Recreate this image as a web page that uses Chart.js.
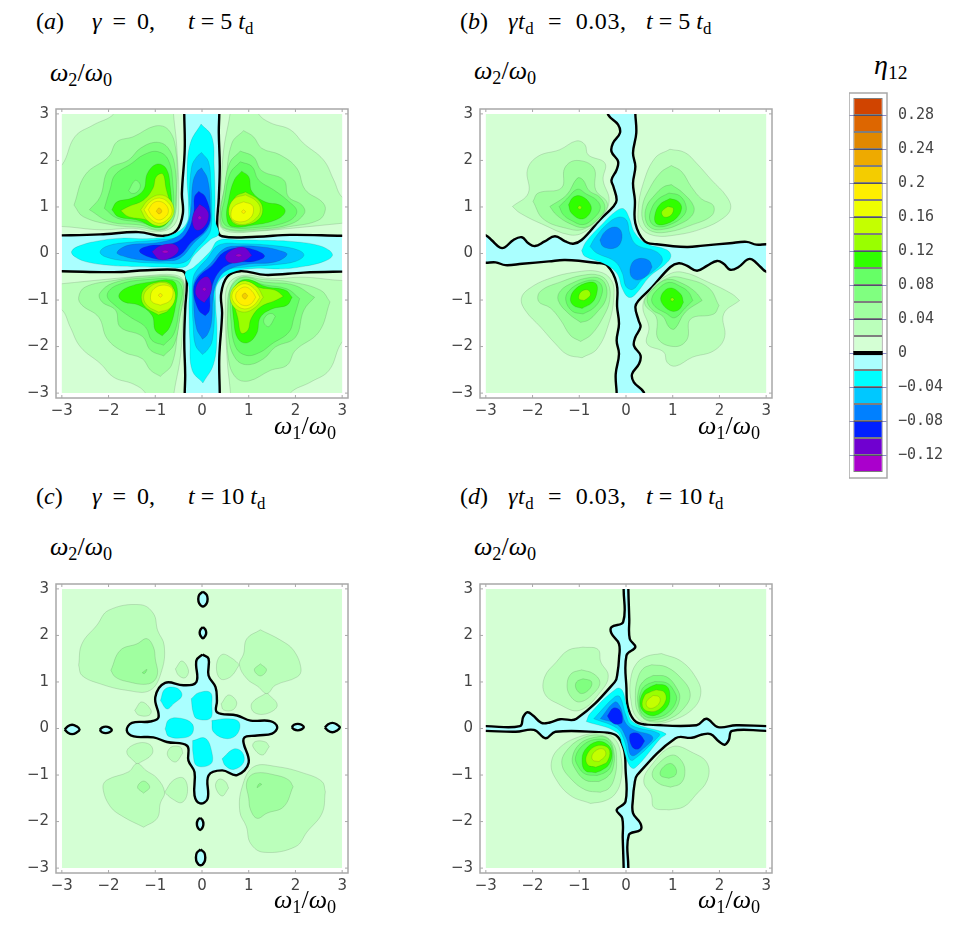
<!DOCTYPE html>
<html>
<head>
<meta charset="utf-8">
<script src="https://cdn.jsdelivr.net/npm/chart.js@4"></script>
<style>
    html, body { margin: 0; background: #fff; }
    #page { position: relative; width: 969px; height: 925px; overflow: hidden; }
    canvas { position: absolute; }
    .m { position: absolute; font: 24px "Liberation Serif", serif; color: #000; white-space: nowrap; line-height: 28px; }
    .m i { font-style: italic; }
    .m sub { font-size: 70%; line-height: 0; vertical-align: -0.28em; }
    .g { word-spacing: 5px; }
    .h { word-spacing: 7px; letter-spacing: 0.6px; }
    .w { font-size: 26px; }
</style>
</head>
<body>
<div id="page">
    <canvas id="panelA" width="335" height="321" style="left:21px;top:101px"></canvas>
    <canvas id="panelB" width="335" height="321" style="left:445px;top:101px"></canvas>
    <canvas id="panelC" width="335" height="321" style="left:21px;top:576px"></canvas>
    <canvas id="panelD" width="335" height="321" style="left:445px;top:576px"></canvas>
    <canvas id="colorbar" width="115" height="401" style="left:849px;top:85px"></canvas>

    <span class="m" style="left:36px;top:7px">(<i>a</i>)</span>
    <span class="m g" style="left:92px;top:7px"><i>γ</i> = 0,</span>
    <span class="m" style="left:188px;top:7px"><i>t</i> = 5 <i>t</i><sub>d</sub></span>
    <span class="m" style="left:460px;top:7px">(<i>b</i>)</span>
    <span class="m h" style="left:508px;top:7px"><i>γt</i><sub>d</sub> = 0.03,</span>
    <span class="m" style="left:646px;top:7px"><i>t</i> = 5 <i>t</i><sub>d</sub></span>
    <span class="m" style="left:36px;top:482px">(<i>c</i>)</span>
    <span class="m g" style="left:92px;top:482px"><i>γ</i> = 0,</span>
    <span class="m" style="left:188px;top:482px"><i>t</i> = 10 <i>t</i><sub>d</sub></span>
    <span class="m" style="left:460px;top:482px">(<i>d</i>)</span>
    <span class="m h" style="left:508px;top:482px"><i>γt</i><sub>d</sub> = 0.03,</span>
    <span class="m" style="left:646px;top:482px"><i>t</i> = 10 <i>t</i><sub>d</sub></span>

    <span class="m w" style="left:50px;top:59px"><i>ω</i><sub>2</sub>/<i>ω</i><sub>0</sub></span>
    <span class="m w" style="left:474px;top:57px"><i>ω</i><sub>2</sub>/<i>ω</i><sub>0</sub></span>
    <span class="m w" style="left:50px;top:533px"><i>ω</i><sub>2</sub>/<i>ω</i><sub>0</sub></span>
    <span class="m w" style="left:474px;top:533px"><i>ω</i><sub>2</sub>/<i>ω</i><sub>0</sub></span>
    <span class="m w" style="left:274px;top:412px"><i>ω</i><sub>1</sub>/<i>ω</i><sub>0</sub></span>
    <span class="m w" style="left:698px;top:412px"><i>ω</i><sub>1</sub>/<i>ω</i><sub>0</sub></span>
    <span class="m w" style="left:274px;top:886px"><i>ω</i><sub>1</sub>/<i>ω</i><sub>0</sub></span>
    <span class="m w" style="left:698px;top:886px"><i>ω</i><sub>1</sub>/<i>ω</i><sub>0</sub></span>
    <span class="m" style="left:874px;top:51px;font-size:28px"><i>η</i><sub>12</sub></span>
</div>
<script>
const axisTicks = [-3, -2, -1, 0, 1, 2, 3];
const barTicks = [0.28, 0.24, 0.2, 0.16, 0.12, 0.08, 0.04, 0, -0.04, -0.08, -0.12];
const bandFloor = [-0.14, -0.12, -0.1, -0.08, -0.06, -0.04, -0.02, 0, 0.02, 0.04, 0.06, 0.08, 0.1, 0.12, 0.14, 0.16, 0.18, 0.2, 0.22, 0.24, 0.26, 0.28];
const bandColor = ['#aa00cc', '#7000d0', '#0020ff', '#0080ff', '#00c8ff', '#00ffff', '#aaffff', '#d4ffd4', '#bbffbb', '#a0ffa0', '#80ff80', '#66ff66', '#30ff00', '#99ff00', '#c4ff00', '#eeff00', '#ffee00', '#f4cc00', '#eeaa00', '#e08800', '#dd6600', '#d04400'];

const square = [[-3, -3], [3, -3], [3, 3], [-3, 3]];

// contours in (w1, w2) units, lobes list the levels 0.02, 0.04, ... upward
// panel a
const aZeroNE = [[0.37, 3.3], [0.37, 3], [0.36, 2.6], [0.38, 1.87], [0.36, 1.2], [0.33, 0.54], [0.43, 0.37], [1.17, 0.36], [1.89, 0.4], [3, 0.38], [3.3, 0.38], [3.3, 3.3]];
const aZeroNW = [[-3.3, 0.39], [-3, 0.39], [-2.18, 0.41], [-1.36, 0.46], [-0.82, 0.38], [-0.54, 0.5], [-0.41, 0.86], [-0.43, 1.29], [-0.37, 2.23], [-0.38, 3], [-0.38, 3.3], [-3.3, 3.3]];
const aLobeNE = [
    [[0.62, 3.3], [0.6, 3], [0.46, 2.2], [0.4, 1.2], [0.39, 0.6], [0.6, 0.46], [1.2, 0.48], [2, 0.55], [3, 0.65], [3.3, 0.68], [3.3, 1.1], [3, 1.21], [2.82, 1.58], [2.6, 2.01], [2.17, 2.37], [1.89, 2.66], [1.46, 2.81], [1.21, 3], [1.15, 3.3]],
    [[0.89, 2.64], [1.1, 2.51], [1.28, 2.26], [1.67, 2.12], [2.03, 1.83], [2.21, 1.37], [2.57, 1.11], [2.64, 0.94], [2.5, 0.72], [1.89, 0.58], [1.17, 0.49], [0.46, 0.54], [0.39, 0.86], [0.5, 1.51], [0.64, 2.37]],
    [[0.82, 2.2], [1.1, 2.08], [1.28, 1.78], [1.75, 1.58], [1.85, 1.22], [2.14, 1.04], [2.19, 0.86], [1.89, 0.63], [1.17, 0.52], [0.5, 0.54], [0.39, 0.79], [0.46, 1.29], [0.59, 1.94]],
    [[0.82, 1.97], [1.07, 1.87], [1.21, 1.58], [1.53, 1.37], [1.82, 1.15], [2.03, 0.9], [1.82, 0.68], [1.17, 0.56], [0.55, 0.58], [0.42, 0.79], [0.48, 1.15], [0.6, 1.72]],
    [[0.85, 1.77], [1, 1.65], [1.07, 1.33], [1.35, 1.11], [1.67, 1.04], [1.78, 0.9], [1.6, 0.73], [1.1, 0.61], [0.64, 0.58], [0.53, 0.76], [0.57, 1.15], [0.69, 1.58]],
    [[0.93, 1.32], [1.21, 1.15], [1.3, 0.94], [1.21, 0.73], [0.93, 0.61], [0.68, 0.65], [0.6, 0.86], [0.71, 1.21]],
    [[0.93, 1.26], [1.16, 1.13], [1.25, 0.94], [1.16, 0.76], [0.93, 0.63], [0.68, 0.68], [0.57, 0.9], [0.68, 1.17]],
    [[0.89, 1.11], [1.07, 1.04], [1.1, 0.9], [1.03, 0.76], [0.85, 0.68], [0.66, 0.73], [0.62, 0.86], [0.69, 1.02]],
    [[0.89, 0.94], [0.93, 0.9], [0.89, 0.86], [0.85, 0.9]]
];
const aLobeNW = [
    [[-3.3, 0.56], [-3, 0.58], [-2.18, 0.51], [-1.47, 0.54], [-0.9, 0.47], [-0.57, 0.65], [-0.5, 1.15], [-0.54, 2.3], [-0.61, 3], [-0.62, 3.3], [-1.85, 3.3], [-1.89, 3], [-2.33, 2.76], [-2.72, 2.51], [-3, 1.9], [-3.3, 1.75]],
    [[-2.74, 1.04], [-2.5, 1.69], [-2, 2.08], [-1.82, 2.4], [-1.47, 2.51], [-1, 2.74], [-0.72, 2.66], [-0.56, 2.23], [-0.54, 1.29], [-0.6, 0.76], [-0.82, 0.51], [-1.32, 0.56], [-1.89, 0.61], [-2.54, 0.79]],
    [[-2.41, 0.94], [-2.18, 1.22], [-2, 1.8], [-1.57, 2.01], [-1.32, 2.26], [-0.97, 2.39], [-0.72, 2.26], [-0.57, 1.8], [-0.57, 1.01], [-0.65, 0.68], [-0.9, 0.51], [-1.32, 0.61], [-1.97, 0.68]],
    [[-2.09, 0.97], [-1.97, 1.37], [-1.86, 1.69], [-1.5, 1.94], [-1.25, 2.12], [-0.95, 2.19], [-0.72, 2.01], [-0.62, 1.44], [-0.62, 0.94], [-0.72, 0.68], [-0.91, 0.56], [-1.32, 0.67], [-1.82, 0.76]],
    [[-1.93, 0.94], [-1.82, 1.11], [-1.5, 1.19], [-1.25, 1.37], [-1.17, 1.72], [-0.97, 1.92], [-0.77, 1.83], [-0.68, 1.44], [-0.66, 0.86], [-0.77, 0.63], [-1, 0.56], [-1.36, 0.71], [-1.79, 0.79]],
    [[-1.74, 0.92], [-1.57, 1.01], [-1.25, 1.15], [-1.05, 1.4], [-0.98, 1.65], [-0.84, 1.71], [-0.77, 1.4], [-0.68, 1.01], [-0.72, 0.76], [-0.93, 0.61], [-1.22, 0.73], [-1.57, 0.79]],
    [[-1.31, 0.94], [-1.15, 1.15], [-0.9, 1.26], [-0.68, 1.15], [-0.6, 0.9], [-0.72, 0.68], [-0.93, 0.59], [-1.18, 0.72]],
    [[-1.24, 0.94], [-1.11, 1.11], [-0.91, 1.19], [-0.72, 1.09], [-0.64, 0.9], [-0.75, 0.72], [-0.93, 0.65], [-1.12, 0.76]],
    [[-1.15, 0.94], [-1.05, 1.08], [-0.91, 1.12], [-0.77, 1.04], [-0.72, 0.9], [-0.79, 0.78], [-0.93, 0.72], [-1.07, 0.81]],
    [[-0.98, 0.91], [-0.92, 0.98], [-0.86, 0.91], [-0.92, 0.85]]
];
const aHole = [[-1.57, 1.35], [-1.43, 1.57], [-1.32, 1.47], [-1.38, 1.33], [-1.5, 1.29]];
const aArms = [
    [[-0.02, 2.78], [0.21, 2.51], [0.26, 1.87], [0.28, 1.15], [0.28, 0.72], [0.36, 0.42], [0.18, 0.3], [-0.18, -0.05], [-0.35, -0.28], [-0.8, -0.29], [-1.5, -0.28], [-1.9, -0.26], [-2.43, -0.19], [-2.72, -0.07], [-2.79, 0.05], [-2.61, 0.17], [-2.22, 0.27], [-1.72, 0.33], [-1.11, 0.32], [-0.61, 0.42], [-0.33, 0.65], [-0.29, 1], [-0.32, 1.72], [-0.25, 2.37]],
    [[-0.01, 2.17], [0.14, 1.97], [0.19, 1.5], [0.21, 1], [0.2, 0.6], [0.14, 0.4], [-0.11, 0.11], [-0.36, -0.18], [-0.82, -0.21], [-1.64, -0.16], [-2.07, -0.07], [-2.18, 0.04], [-2, 0.17], [-1.57, 0.24], [-0.97, 0.29], [-0.47, 0.38], [-0.25, 0.68], [-0.27, 1.15], [-0.22, 1.87], [-0.11, 2.08]],
    [[-0.01, 1.84], [0.12, 1.6], [0.18, 1], [0.15, 0.58], [-0.18, 0.22], [-0.47, -0.1], [-0.79, -0.16], [-1.29, -0.14], [-1.64, -0.07], [-1.82, 0.02], [-1.57, 0.18], [-0.97, 0.23], [-0.54, 0.36], [-0.34, 0.58], [-0.24, 0.94], [-0.2, 1.5], [-0.11, 1.75]],
    [[-0.07, 1.34], [0.07, 1.22], [0.18, 0.79], [0.07, 0.5], [-0.22, 0.25], [-0.47, -0.03], [-0.82, -0.13], [-1.15, -0.07], [-1.34, 0.06], [-1.11, 0.17], [-0.68, 0.2], [-0.36, 0.4], [-0.18, 0.86], [-0.16, 1.22]]
];
const aPurple = [
    [[-0.05, 1.06], [0.1, 0.94], [0.14, 0.79], [0.05, 0.58], [-0.11, 0.5], [-0.2, 0.65], [-0.18, 0.86]],
    [[-1.07, 0.04], [-0.9, 0.16], [-0.61, 0.2], [-0.5, 0.08], [-0.65, -0.08], [-0.9, -0.13]]
];
const aMagenta = [
    [[-0.05, 0.81], [-0.01, 0.77], [-0.05, 0.73], [-0.09, 0.77]],
    [[-0.86, 0.04], [-0.79, 0.07], [-0.72, 0.04], [-0.79, 0.01]]
];

// panel b
const bZeroNW = [[-3.3, 0.45], [-3, 0.39], [-2.88, 0.29], [-2.7, 0.13], [-2.6, 0.13], [-2.41, 0.29], [-2.23, 0.35], [-2.09, 0.22], [-1.95, 0.16], [-1.74, 0.26], [-1.52, 0.37], [-1.3, 0.26], [-1.13, 0.21], [-0.95, 0.29], [-0.56, 0.72], [-0.27, 1.01], [-0.2, 1.15], [-0.27, 1.44], [-0.31, 1.58], [-0.2, 1.8], [-0.17, 1.98], [-0.31, 2.19], [-0.28, 2.37], [-0.13, 2.59], [-0.17, 2.77], [-0.38, 2.98], [-0.45, 3.3], [-3.3, 3.3]];
const bZeroNE = [[0.2, 3.3], [0.2, 3], [0.22, 2.59], [0.15, 2.16], [0.2, 1.87], [0.15, 1.51], [0.19, 1.15], [0.2, 0.65], [0.4, 0.26], [0.65, 0.2], [1.3, 0.14], [1.65, 0.17], [2.22, 0.22], [2.58, 0.25], [2.79, 0.19], [3, 0.2], [3.3, 0.2], [3.3, 3.3]];
const bLobeNW = [
    [[-2.43, 1.01], [-2.09, 1.3], [-2.11, 1.8], [-1.88, 2.09], [-1.42, 2.23], [-1.06, 2.42], [-0.88, 2.34], [-0.81, 2.12], [-0.45, 1.94], [-0.49, 1.58], [-0.36, 1.15], [-0.49, 0.83], [-0.88, 0.47], [-1.2, 0.4], [-1.77, 0.62], [-2.27, 0.87]],
    [[-1.99, 1.12], [-1.88, 1.3], [-1.38, 1.41], [-1.31, 1.84], [-1.06, 2], [-0.69, 1.84], [-0.65, 1.37], [-0.4, 1.08], [-0.53, 0.8], [-0.92, 0.52], [-1.27, 0.54], [-1.77, 0.74]],
    [[-1.63, 1.01], [-1.27, 1.26], [-1.04, 1.62], [-0.92, 1.58], [-0.79, 1.35], [-0.56, 1.21], [-0.45, 0.97], [-0.6, 0.74], [-0.88, 0.56], [-1.2, 0.64], [-1.49, 0.83]],
    [[-1.43, 1.01], [-1.27, 1.17], [-1.04, 1.38], [-0.85, 1.28], [-0.62, 1.14], [-0.55, 0.97], [-0.69, 0.76], [-0.92, 0.62], [-1.17, 0.71], [-1.34, 0.83]],
    [[-1.23, 1.05], [-1.13, 1.21], [-0.95, 1.23], [-0.76, 1.05], [-0.77, 0.87], [-0.95, 0.74], [-1.17, 0.87]],
    [[-0.99, 1.03], [-0.95, 0.99], [-0.99, 0.95], [-1.03, 0.99]]
];
const bLobeNE = [
    [[0.94, 2.24], [1.26, 2.17], [1.51, 1.94], [1.83, 1.58], [2.15, 1.23], [2.24, 0.97], [2.08, 0.76], [1.65, 0.54], [1.08, 0.4], [0.58, 0.39], [0.31, 0.58], [0.26, 0.94], [0.37, 1.51], [0.62, 2.05]],
    [[0.97, 1.89], [1.19, 1.76], [1.4, 1.43], [1.62, 1.17], [1.87, 1.03], [1.83, 0.81], [1.37, 0.6], [0.94, 0.47], [0.57, 0.47], [0.38, 0.65], [0.35, 1.01], [0.49, 1.37], [0.74, 1.74]],
    [[0.97, 1.48], [1.22, 1.3], [1.45, 1.01], [1.4, 0.8], [1.12, 0.62], [0.8, 0.52], [0.55, 0.54], [0.42, 0.72], [0.44, 1.01], [0.62, 1.26], [0.8, 1.43]],
    [[0.92, 1.3], [1.15, 1.24], [1.29, 1], [1.22, 0.8], [0.94, 0.62], [0.65, 0.58], [0.51, 0.72], [0.55, 0.97], [0.69, 1.17]],
    [[0.94, 1.18], [1.12, 1.12], [1.19, 0.97], [1.08, 0.76], [0.8, 0.62], [0.64, 0.65], [0.62, 0.83], [0.72, 1.05]],
    [[0.9, 1.01], [1.01, 0.97], [0.97, 0.83], [0.83, 0.78], [0.76, 0.87], [0.81, 0.95]]
];
const bCentre = [
    [[-0.95, 0.06], [-0.85, 0.26], [-0.52, 0.62], [-0.2, 0.92], [-0.05, 0.96], [0.07, 0.76], [0.19, 0.44], [0.44, 0.21], [0.87, 0.08], [0.96, -0.06], [0.83, -0.24], [0.51, -0.49], [0.19, -0.89], [0.05, -0.94], [-0.08, -0.75], [-0.2, -0.42], [-0.49, -0.21], [-0.88, -0.06]],
    [[-0.77, 0.15], [-0.67, 0.33], [-0.42, 0.62], [-0.17, 0.78], [0.01, 0.72], [0.08, 0.44], [0.22, 0.19], [0.65, 0.04], [0.78, -0.14], [0.62, -0.35], [0.33, -0.57], [0.15, -0.77], [0, -0.71], [-0.08, -0.42], [-0.24, -0.17], [-0.63, 0.01]]
];
const bBlob = [[-0.56, 0.29], [-0.45, 0.47], [-0.24, 0.57], [-0.1, 0.47], [-0.12, 0.22], [-0.27, 0.11], [-0.49, 0.15]];

// panel c
const cZero = [[0.01, 1.59], [0.14, 1.5], [0.14, 1.14], [0.29, 0.89], [0.32, 0.6], [0.32, 0.35], [0.75, 0.28], [1.04, 0.17], [1.46, 0.16], [1.61, 0.03], [1.5, -0.11], [1.18, -0.15], [0.89, -0.22], [1, -0.73], [0.75, -1], [0.43, -0.9], [0.14, -1.01], [0.12, -1.51], [-0.04, -1.61], [-0.16, -1.44], [-0.16, -0.94], [-0.29, -0.69], [-0.32, -0.37], [-0.75, -0.29], [-1.04, -0.19], [-1.46, -0.17], [-1.61, -0.04], [-1.5, 0.12], [-1.11, 0.15], [-0.93, 0.24], [-1, 0.67], [-0.79, 0.98], [-0.39, 0.93], [-0.12, 1], [-0.12, 1.46]];
const cOvals = [
    [[0.02, 2.94], [0.1, 2.87], [0.12, 2.78], [0.1, 2.69], [0.02, 2.62], [-0.06, 2.69], [-0.08, 2.78], [-0.06, 2.87]],
    [[0.02, 2.18], [0.07, 2.13], [0.09, 2.06], [0.07, 1.99], [0.02, 1.94], [-0.03, 1.99], [-0.05, 2.06], [-0.03, 2.13]],
    [[-0.04, -1.92], [0.01, -1.97], [0.03, -2.05], [0.01, -2.13], [-0.04, -2.18], [-0.09, -2.13], [-0.11, -2.05], [-0.09, -1.97]],
    [[-0.03, -2.6], [0.05, -2.67], [0.07, -2.77], [0.05, -2.87], [-0.03, -2.94], [-0.11, -2.87], [-0.13, -2.77], [-0.11, -2.67]],
    [[-2.94, -0.02], [-2.87, 0.05], [-2.78, 0.08], [-2.69, 0.05], [-2.62, -0.02], [-2.69, -0.09], [-2.78, -0.12], [-2.87, -0.09]],
    [[-2.19, -0.03], [-2.14, 0.02], [-2.06, 0.04], [-1.98, 0.02], [-1.93, -0.03], [-1.98, -0.08], [-2.06, -0.1], [-2.14, -0.08]],
    [[1.92, 0.03], [1.97, 0.08], [2.05, 0.1], [2.13, 0.08], [2.18, 0.03], [2.13, -0.02], [2.05, -0.04], [1.97, -0.02]],
    [[2.63, 0.02], [2.7, 0.09], [2.79, 0.12], [2.88, 0.09], [2.95, 0.02], [2.88, -0.05], [2.79, -0.08], [2.7, -0.05]]
];
const cCyan = [
    [[-0.89, 0.6], [-0.79, 0.85], [-0.54, 0.87], [-0.43, 0.71], [-0.61, 0.53], [-0.75, 0.42]],
    [[-0.23, 0.64], [-0.07, 0.77], [0.18, 0.77], [0.21, 0.5], [0.18, 0.22], [-0.11, 0.21], [-0.19, 0.35]],
    [[-0.79, -0.01], [-0.71, 0.19], [-0.46, 0.22], [-0.21, 0.1], [-0.21, -0.11], [-0.39, -0.2], [-0.71, -0.17]],
    [[0.21, 0.17], [0.54, 0.21], [0.79, 0.14], [0.76, -0.11], [0.54, -0.22], [0.25, -0.08]],
    [[-0.2, -0.26], [0.07, -0.21], [0.21, -0.51], [0.19, -0.76], [-0.11, -0.8], [-0.19, -0.55]],
    [[0.43, -0.65], [0.68, -0.44], [0.86, -0.51], [0.89, -0.73], [0.68, -0.88], [0.5, -0.8]]
];
const cLobeNW = [
    [[-2.64, 1.36], [-2.57, 1.82], [-2.25, 2.22], [-2, 2.54], [-1.32, 2.66], [-1.04, 2.47], [-0.95, 2.11], [-0.81, 1.79], [-0.86, 1.25], [-1.11, 0.82], [-1.61, 0.82], [-2.18, 0.96], [-2.57, 1.14]],
    [[-1.95, 1.25], [-1.75, 1.68], [-1.39, 1.82], [-1.18, 1.93], [-1.04, 1.75], [-1, 1.5], [-0.96, 1.14], [-1.14, 0.96], [-1.61, 1.01], [-1.86, 1.11]],
    [[-1.28, 1.2], [-1.18, 1.27], [-1.23, 1.18]]
];
const cLobeNE = [
    [[1.25, 2.12], [1.68, 1.9], [1.96, 1.68], [2.12, 1.28], [2.04, 1.11], [1.57, 0.93], [1.39, 0.75], [1.2, 0.9], [0.96, 1.07], [0.8, 1.37], [0.89, 1.6], [0.96, 1.93]],
    [[1.25, 1.39], [1.38, 1.26], [1.25, 1.13], [1.12, 1.26]]
];
const cSmall = [
    [[-0.57, 1.28], [-0.43, 1.45], [-0.29, 1.25], [-0.36, 1.09], [-0.5, 1.14]],
    [[-1.44, 0.39], [-1.29, 0.57], [-1.09, 0.39], [-1.14, 0.28], [-1.36, 0.29]],
    [[0.41, 0.53], [0.57, 0.72], [0.74, 0.57], [0.66, 0.4], [0.46, 0.4]],
    [[0.8, 1.37], [0.61, 1.11], [0.39, 1.07], [0.31, 1.36], [0.43, 1.59], [0.64, 1.51]],
    [[1.39, 0.77], [1.61, 0.5], [1.39, 0.32], [1.11, 0.35], [1.07, 0.55]]
];

// panel d
const dZeroNW = [[-3.3, 0.05], [-3, 0.05], [-2.27, 0.05], [-2.2, 0.25], [-2.11, 0.35], [-1.99, 0.28], [-1.81, 0.12], [-1.63, 0.13], [-1.41, 0.2], [-1.06, 0.21], [-0.24, 1], [-0.18, 1.21], [-0.15, 1.5], [-0.15, 1.82], [-0.31, 2.04], [-0.31, 2.18], [-0.06, 2.29], [-0.05, 3], [-0.05, 3.3], [-3.3, 3.3]];
const dZeroNE = [[0.05, 3.3], [0.05, 3], [0.07, 2.36], [0.08, 1.93], [0.2, 1.75], [0.01, 1.57], [0.01, 0.86], [0.05, 0.43], [0.22, 0.14], [0.58, 0.08], [1.51, 0.07], [1.72, 0.21], [1.97, 0.03], [2.36, 0.07], [3, 0.05], [3.3, 0.05], [3.3, 3.3]];
const dLobeNE = [
    [[0.76, 1.61], [1.19, 1.44], [1.51, 1.07], [1.6, 0.75], [1.44, 0.43], [1.01, 0.18], [0.51, 0.1], [0.22, 0.25], [0.1, 0.64], [0.1, 1.07], [0.22, 1.39], [0.44, 1.55]],
    [[0.55, 1.37], [0.87, 1.32], [1.19, 1.07], [1.37, 0.78], [1.29, 0.5], [0.94, 0.21], [0.51, 0.15], [0.26, 0.35], [0.2, 0.71], [0.25, 1.07], [0.37, 1.29]],
    [[0.58, 1.14], [0.87, 1.11], [1.09, 0.86], [1.15, 0.64], [1.01, 0.35], [0.72, 0.2], [0.4, 0.21], [0.26, 0.5], [0.28, 0.86], [0.4, 1.04]],
    [[0.62, 1.01], [0.87, 0.98], [1.02, 0.82], [1.08, 0.61], [0.9, 0.34], [0.62, 0.23], [0.38, 0.28], [0.28, 0.53], [0.33, 0.82], [0.44, 0.94]],
    [[0.65, 0.95], [0.87, 0.91], [0.94, 0.71], [0.88, 0.46], [0.62, 0.28], [0.4, 0.34], [0.3, 0.53], [0.37, 0.78], [0.51, 0.89]],
    [[0.65, 0.83], [0.82, 0.78], [0.85, 0.6], [0.69, 0.4], [0.47, 0.37], [0.35, 0.48], [0.4, 0.71], [0.51, 0.78]],
    [[0.58, 0.71], [0.71, 0.68], [0.72, 0.56], [0.58, 0.44], [0.46, 0.46], [0.44, 0.58]]
];
const dLobeNW = [
    [[-0.92, 1.75], [-0.6, 1.7], [-0.54, 1.43], [-0.38, 1.14], [-0.52, 0.82], [-0.99, 0.39], [-1.45, 0.53], [-1.74, 0.75], [-1.74, 1.11], [-1.49, 1.43], [-1.24, 1.68]],
    [[-0.95, 1.26], [-0.7, 1.18], [-0.56, 1], [-0.67, 0.78], [-0.99, 0.57], [-1.2, 0.71], [-1.26, 0.96], [-1.17, 1.18]],
    [[-0.92, 1.07], [-0.74, 1.01], [-0.77, 0.86], [-0.95, 0.75], [-1.07, 0.86], [-1.06, 1]]
];
const dCentre = [
    [[-0.85, 0.15], [-0.77, 0.32], [-0.2, 0.86], [-0.08, 0.82], [0.01, 0.5], [0.15, 0.14], [0.85, -0.11], [0.73, -0.22], [0.19, -0.85], [0.07, -0.79], [-0.08, -0.36], [-0.2, -0.08]],
    [[-0.69, 0.21], [-0.24, 0.68], [-0.13, 0.68], [0, 0.28], [0.12, 0.07], [0.71, -0.11], [0.62, -0.25], [0.15, -0.68], [0.07, -0.65], [-0.05, -0.22], [-0.2, 0.01]],
    [[-0.55, 0.21], [-0.24, 0.57], [-0.12, 0.46], [-0.02, 0.14], [0.15, -0.02], [0.57, -0.18], [0.37, -0.43], [0.12, -0.58], [0.01, -0.22], [-0.17, 0.07]]
];
const dBlob = [[-0.4, 0.27], [-0.27, 0.44], [-0.13, 0.39], [-0.08, 0.14], [-0.2, 0.09], [-0.31, 0.14]];

const colorFor = v => bandColor[bandFloor.findIndex(f => Math.abs(f - v) < 0.001)];

// the picture is point symmetric around the centre, the opposite lobes reuse the traced half
const flip = pts => pts.map(([x, y]) => [-x, -y]);
const flipAll = list => list.map(flip);

const band = (floor, pts, extra) => Object.assign({
    data: pts.concat([pts[0]]).map(([x, y]) => ({ x, y })),
    showLine: true,
    tension: 0.4,
    pointRadius: 0,
    backgroundColor: colorFor(floor),
    borderColor: 'rgba(50,60,50,0.2)',
    borderWidth: 0.8
}, extra);
const zero = pts => band(0, pts, { borderColor: '#000', borderWidth: 2.4 });
const greens = lobe => lobe.map((pts, i) => band(0.02 * (i + 1), pts));
const blues = lobe => lobe.map((pts, i) => band(-0.02 * (i + 2), pts));
const base = floor => band(floor, square, { tension: 0, borderWidth: 0 });

const panelA = [
    base(-0.02),
    ...[aZeroNE, aZeroNW, flip(aZeroNE), flip(aZeroNW)].map(zero),
    ...greens(aLobeNE), ...greens(flipAll(aLobeNE)),
    ...greens(aLobeNW), band(0.06, aHole), ...greens(flipAll(aLobeNW)), band(0.06, flip(aHole)),
    ...blues(aArms), ...blues(flipAll(aArms)),
    ...aPurple.concat(flipAll(aPurple)).map(p => band(-0.12, p)),
    ...aMagenta.concat(flipAll(aMagenta)).map(p => band(-0.14, p))
];
const panelB = [
    base(-0.02),
    ...[bZeroNE, bZeroNW, flip(bZeroNE), flip(bZeroNW)].map(zero),
    ...greens(bLobeNE), ...greens(flipAll(bLobeNE)),
    ...greens(bLobeNW), ...greens(flipAll(bLobeNW)),
    ...blues(bCentre),
    band(-0.08, bBlob), band(-0.08, flip(bBlob))
];
const panelC = [
    base(0),
    ...greens(cLobeNW), ...greens(flipAll(cLobeNW)),
    ...cSmall.concat(flipAll(cSmall)).map(p => band(0.02, p)),
    ...greens(cLobeNE), ...greens(flipAll(cLobeNE)),
    ...cOvals.map(p => band(-0.02, p, { borderColor: '#000', borderWidth: 2.4 })),
    band(-0.02, cZero, { borderColor: '#000', borderWidth: 2.4 }),
    ...cCyan.map(p => band(-0.04, p))
];
const panelD = [
    base(-0.02),
    ...[dZeroNE, dZeroNW, flip(dZeroNE), flip(dZeroNW)].map(zero),
    ...greens(dLobeNE), ...greens(flipAll(dLobeNE)),
    ...greens(dLobeNW), ...greens(flipAll(dLobeNW)),
    ...blues(dCentre),
    band(-0.1, dBlob), band(-0.1, flip(dBlob))
];

const tickColor = '#444';
const minus = v => String(v).replace('-', '\u2212');

// fills each closed contour along the same path the line element strokes
const contourFill = {
    id: 'contourFill',
    beforeDatasetDraw(chart, args) {
        const { ctx, scales } = chart;
        const ds = chart.data.datasets[args.index];
        const left = scales.x.getPixelForValue(-3), right = scales.x.getPixelForValue(3);
        const top = scales.y.getPixelForValue(3), bottom = scales.y.getPixelForValue(-3);
        ctx.save();
        ctx.beginPath();
        ctx.rect(left, top, right - left, bottom - top);
        ctx.clip();
        ctx.beginPath();
        args.meta.dataset.path(ctx);
        ctx.closePath();
        ctx.fillStyle = ds.backgroundColor;
        ctx.fill();
        ctx.restore();
    }
};

const frame = {
    id: 'frame',
    afterDraw(chart) {
        const { ctx, chartArea: a, scales } = chart;
        ctx.save();
        ctx.strokeStyle = '#a8a8a8';
        ctx.lineWidth = 1.5;
        ctx.strokeRect(a.left, a.top, a.right - a.left, a.bottom - a.top);
        if (scales.x.type === 'linear') {
            ctx.lineWidth = 1;
            ctx.beginPath();
            axisTicks.forEach(t => {
                const px = scales.x.getPixelForValue(t), py = scales.y.getPixelForValue(t);
                ctx.moveTo(px, a.bottom); ctx.lineTo(px, a.bottom - 3);
                ctx.moveTo(px, a.top); ctx.lineTo(px, a.top + 3);
                ctx.moveTo(a.left, py); ctx.lineTo(a.left + 3, py);
                ctx.moveTo(a.right, py); ctx.lineTo(a.right - 3, py);
            });
            ctx.stroke();
        }
        ctx.restore();
    }
};

const drawPanel = (id, datasets) => {
    datasets.forEach((ds, i) => {
        ds.order = datasets.length - i;  // later contours sit on top of earlier ones
        ds.clip = { left: -5.8, right: -5.8, top: -4.9, bottom: -4.9 };
    });
    const tickOpts = {
        color: tickColor,
        font: { family: 'DejaVu Sans', size: 15 },
        callback: minus,
        autoSkip: false,
        maxRotation: 0
    };
    new Chart(document.getElementById(id), {
        type: 'scatter',
        data: { datasets },
        plugins: [contourFill, frame],
        options: {
            responsive: false,
            animation: false,
            events: [],
            layout: { padding: { left: 0, top: 8, right: 8, bottom: 0 } },
            elements: { line: { capBezierPoints: false } },
            plugins: { legend: { display: false }, tooltip: { enabled: false } },
            scales: {
                x: {
                    min: -3.125,
                    max: 3.125,
                    grid: { display: false, drawTicks: false },
                    border: { display: false },
                    ticks: { ...tickOpts, padding: 4 },
                    afterBuildTicks: s => { s.ticks = axisTicks.map(value => ({ value })); },
                    afterFit: s => { s.height = 24; s.paddingLeft = 0; s.paddingRight = 0; }
                },
                y: {
                    min: -3.105,
                    max: 3.105,
                    grid: { display: false, drawTicks: false },
                    border: { display: false },
                    ticks: { ...tickOpts, padding: 7 },
                    afterBuildTicks: s => { s.ticks = axisTicks.map(value => ({ value })); },
                    afterFit: s => { s.width = 35; s.paddingTop = 0; s.paddingBottom = 0; }
                }
            }
        }
    });
};

drawPanel('panelA', panelA);
drawPanel('panelB', panelB);
drawPanel('panelC', panelC);
drawPanel('panelD', panelD);

const barSets = bandFloor.map((f, i) => ({
    data: [[f, f + 0.02]],
    backgroundColor: bandColor[i],
    borderColor: 'rgba(40,40,40,0.6)',
    borderWidth: 1,
    borderSkipped: false,
    order: 2
}));
barSets.push({ data: [[-0.0024, 0.0024]], backgroundColor: '#000', order: 1 });

new Chart(document.getElementById('colorbar'), {
    type: 'bar',
    data: { labels: [''], datasets: barSets },
    plugins: [frame],
    options: {
        responsive: false,
        animation: false,
        events: [],
        layout: { padding: { left: 0, top: 8, right: 0, bottom: 8 } },
        datasets: { bar: { grouped: false, barPercentage: 1, categoryPercentage: 0.774 } },
        plugins: { legend: { display: false }, tooltip: { enabled: false } },
        scales: {
            x: { display: false },
            y: {
                position: 'right',
                min: -0.147,
                max: 0.3059,
                border: { display: false },
                grid: { color: 'rgba(110,110,190,0.8)', drawTicks: false },
                ticks: {
                    color: tickColor,
                    font: { family: 'DejaVu Sans Mono', size: 15 },
                    crossAlign: 'near',
                    padding: 11,
                    autoSkip: false,
                    callback: minus
                },
                afterBuildTicks: s => { s.ticks = barTicks.map(value => ({ value })); },
                afterFit: s => { s.width = 77; s.paddingTop = 0; s.paddingBottom = 0; }
            }
        }
    }
});
</script>
</body>
</html>
